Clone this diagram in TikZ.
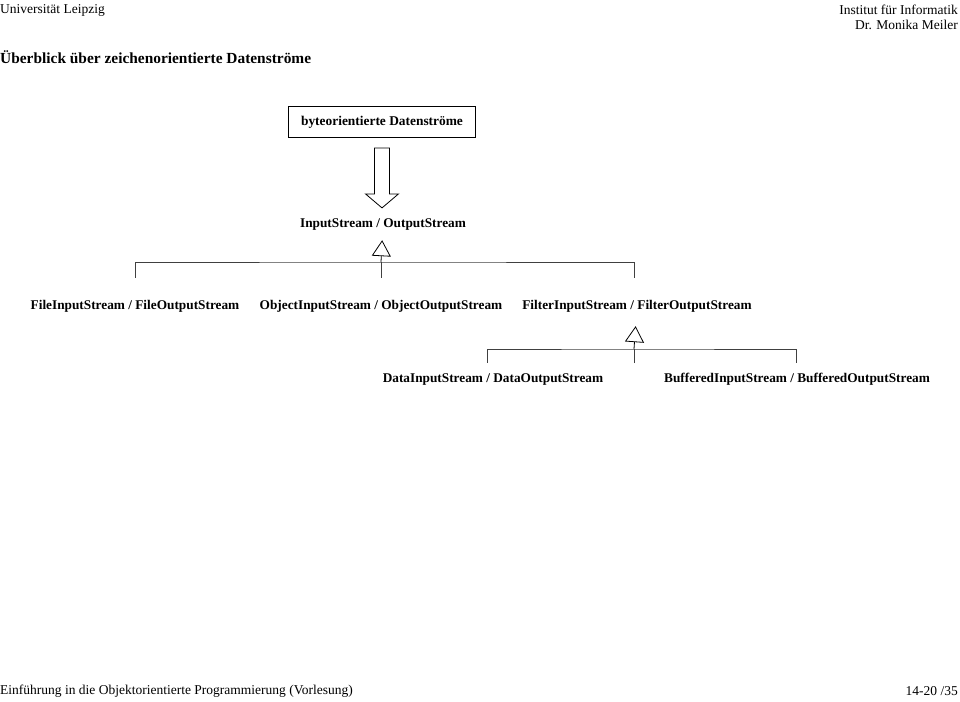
\documentclass[tikz,border=0pt]{standalone}
\usepackage{fontspec}
\setmainfont{Liberation Serif}
\usetikzlibrary{arrows.meta}

\tikzset{
  box/.style={draw, line width=0.8pt, minimum width=187pt, minimum height=31pt,
    font=\fontsize{13.4}{15}\selectfont\bfseries},
  cls/.style={inner sep=2pt, text height=9pt, text depth=3pt,
    font=\fontsize{13.3}{15}\selectfont\bfseries},
  txt/.style={inner sep=0pt, font=\fontsize{13.5}{15}\selectfont},
  line/.style={line width=0.8pt, draw=black!75},
  inherit/.style={line width=0.8pt, -{Triangle[open,length=16pt,width=19pt]}}
}

\begin{document}
\begin{tikzpicture}[x=1pt,y=-1pt]
        \useasboundingbox (0,0) rectangle (960,701);
        % 页眉
        \node[txt, anchor=west] (uni) at (0,10) {Universität Leipzig};
        \node[txt, anchor=east] (inst) at (958,10) {Institut für Informatik};
        \node[txt, anchor=east] (autor) at (958,25) {Dr. Monika Meiler};
        \node[txt, anchor=west, font=\fontsize{15.4}{17}\selectfont\bfseries] (titel) at (0,57) {Überblick über zeichenorientierte Datenströme};
        % 类
        \node[box] (byte) at (382,122) {byteorientierte Datenströme};
        \node[cls] (io) at (383,224) {InputStream / OutputStream};
        \node[cls] (file) at (135,306) {FileInputStream / FileOutputStream};
        \node[cls] (obj) at (381,306) {ObjectInputStream / ObjectOutputStream};
        \node[cls] (filt) at (637,306) {FilterInputStream / FilterOutputStream};
        \node[cls] (data) at (493,379) {DataInputStream / DataOutputStream};
        \node[cls] (buf) at (797,379) {BufferedInputStream / BufferedOutputStream};
        % 空心箭头
        \draw[line width=0.8pt] ([xshift=-7.5pt,yshift=-10pt]byte.south) -- ++(0,46) -- ++(-9,0)
            -- ++(16.5,14) -- ++(16.5,-14) -- ++(-9,0) -- ++(0,-46) -- cycle;
        % 继承
        \coordinate (j1) at (381,262);
        \coordinate (j2) at (634,349);
        \draw[line] ([yshift=20pt]file.north) |- (j1) -| ([xshift=-3pt,yshift=20pt]filt.north);
        \draw[line] ([yshift=20pt]obj.north) -- (j1);
        \draw[inherit, shorten >=8pt] (j1) -- (io);
        \draw[line] ([xshift=-6pt,yshift=8pt]data.north) |- (j2) -| ([xshift=-1pt,yshift=8pt]buf.north);
        \coordinate (j2end) at (634,363);
        \draw[line] (j2end) -- (j2);
        \draw[inherit, shorten >=12pt] (j2) -- (filt);
        % 页脚
        \node[txt, anchor=west] (fuss) at (0,691) {Einführung in die Objektorientierte Programmierung (Vorlesung)};
        \node[txt, anchor=east] (seite) at (958,691) {14-20 /35};
    \end{tikzpicture}
\end{document}
